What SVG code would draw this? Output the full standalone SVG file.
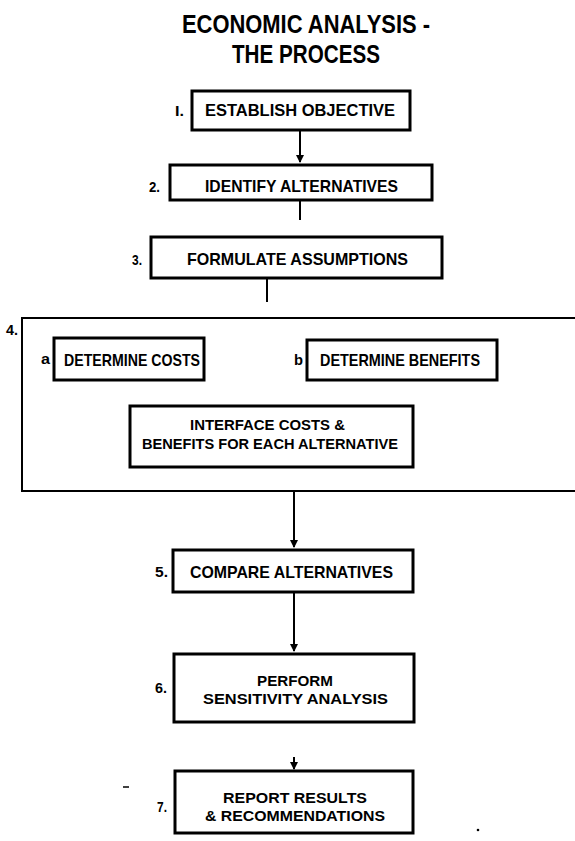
<svg xmlns="http://www.w3.org/2000/svg" width="575" height="841" viewBox="0 0 575 841">
<style>
.box{fill:#fff;stroke:#000;stroke-width:3}
.t{font-family:"Liberation Sans",Arial,sans-serif;font-weight:bold;font-size:17px;fill:#000}
.t2{font-family:"Liberation Sans",Arial,sans-serif;font-weight:bold;font-size:15.5px;fill:#000}
.n{font-family:"Liberation Sans",Arial,sans-serif;font-weight:bold;font-size:15px;fill:#000}
.title{font-family:"Liberation Sans",Arial,sans-serif;font-weight:bold;font-size:25px;fill:#000}
.ln{stroke:#000;stroke-width:2;fill:none}
</style>
<defs>
<marker id="ah" markerWidth="8" markerHeight="10" refX="7" refY="4" orient="auto" markerUnits="userSpaceOnUse" viewBox="0 0 8 8">
<path d="M0,0 L8,4 L0,8 Z" fill="#000"/>
</marker>
</defs>
<rect width="575" height="841" fill="#fff"/>
<g id="title">
<text class="title" x="182" y="33" textLength="248" lengthAdjust="spacingAndGlyphs">ECONOMIC ANALYSIS -</text>
<text class="title" x="232" y="63" textLength="148" lengthAdjust="spacingAndGlyphs">THE  PROCESS</text>
</g>
<g id="connectors">
<line class="ln" x1="300" y1="131" x2="300" y2="162" marker-end="url(#ah)"/>
<line class="ln" x1="300" y1="200" x2="300" y2="220"/>
<line class="ln" x1="267" y1="278" x2="267" y2="302"/>
<line class="ln" x1="294" y1="492" x2="294" y2="547" marker-end="url(#ah)"/>
<line class="ln" x1="294" y1="592" x2="294" y2="651" marker-end="url(#ah)"/>
<line class="ln" x1="294" y1="757" x2="294" y2="769" marker-end="url(#ah)"/>
</g>
<g id="n1">
<rect class="box" x="192" y="91" width="218" height="39"/>
<text class="n" x="175" y="116" textLength="9" lengthAdjust="spacingAndGlyphs">I.</text>
<text class="t" x="205" y="116" textLength="190" lengthAdjust="spacingAndGlyphs">ESTABLISH OBJECTIVE</text>
</g>
<g id="n2">
<rect class="box" x="170" y="165" width="262" height="35"/>
<text class="n" x="149" y="192" textLength="11" lengthAdjust="spacingAndGlyphs">2.</text>
<text class="t" x="205" y="192" textLength="193" lengthAdjust="spacingAndGlyphs">IDENTIFY ALTERNATIVES</text>
</g>
<g id="n3">
<rect class="box" x="151" y="237" width="291" height="41"/>
<text class="n" x="132" y="265" textLength="10" lengthAdjust="spacingAndGlyphs">3.</text>
<text class="t" x="187" y="265" textLength="221" lengthAdjust="spacingAndGlyphs">FORMULATE  ASSUMPTIONS</text>
</g>
<g id="n4">
<path class="ln" d="M576,318 L22,318 L22,491 L576,491" stroke-width="2.5"/>
<text class="n" x="6" y="335" textLength="12" lengthAdjust="spacingAndGlyphs">4.</text>
</g>
<g id="n4a">
<rect class="box" x="54" y="338" width="150" height="42"/>
<text class="n" x="41" y="364" textLength="9" lengthAdjust="spacingAndGlyphs">a</text>
<text class="t" x="64" y="366" textLength="136" lengthAdjust="spacingAndGlyphs">DETERMINE COSTS</text>
</g>
<g id="n4b">
<rect class="box" x="307" y="340" width="190" height="40"/>
<text class="n" x="294" y="365" textLength="9" lengthAdjust="spacingAndGlyphs">b</text>
<text class="t" x="320" y="366" textLength="160" lengthAdjust="spacingAndGlyphs">DETERMINE  BENEFITS</text>
</g>
<g id="n4c">
<rect class="box" x="130" y="406" width="283" height="61"/>
<text class="t2" x="190" y="430" textLength="155" lengthAdjust="spacingAndGlyphs">INTERFACE COSTS &amp;</text>
<text class="t2" x="142" y="449" textLength="256" lengthAdjust="spacingAndGlyphs">BENEFITS FOR EACH ALTERNATIVE</text>
</g>
<g id="n5">
<rect class="box" x="173" y="550" width="240" height="42"/>
<text class="n" x="155" y="577" textLength="13" lengthAdjust="spacingAndGlyphs">5.</text>
<text class="t" x="190" y="578" textLength="203" lengthAdjust="spacingAndGlyphs">COMPARE  ALTERNATIVES</text>
</g>
<g id="n6">
<rect class="box" x="174" y="654" width="240" height="68"/>
<text class="n" x="155" y="693" textLength="12" lengthAdjust="spacingAndGlyphs">6.</text>
<text class="t2" x="257" y="686" textLength="76" lengthAdjust="spacingAndGlyphs">PERFORM</text>
<text class="t2" x="203" y="704" textLength="185" lengthAdjust="spacingAndGlyphs">SENSITIVITY  ANALYSIS</text>
</g>
<g id="n7">
<rect class="box" x="175" y="771" width="238" height="62"/>
<text class="n" x="157" y="812" textLength="10" lengthAdjust="spacingAndGlyphs">7.</text>
<text class="t2" x="223" y="803" textLength="144" lengthAdjust="spacingAndGlyphs">REPORT  RESULTS</text>
<text class="t2" x="205" y="821" textLength="180" lengthAdjust="spacingAndGlyphs">&amp; RECOMMENDATIONS</text>
</g>
<g id="marks">
<line x1="123" y1="787" x2="129" y2="787" stroke="#000" stroke-width="1.5"/>
<circle cx="478" cy="830" r="1.3" fill="#000"/>
</g>
</svg>
